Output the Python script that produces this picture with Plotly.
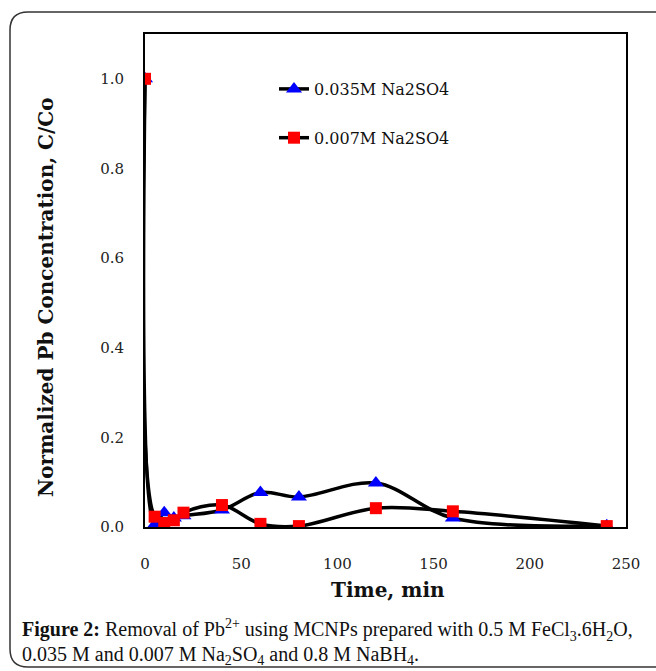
import plotly.graph_objects as go

# Sampling times (min)
time_min = [0, 5, 10, 15, 20, 40, 60, 80, 120, 160, 240]

# Normalized Pb concentration C/Co for the two sulfate levels
c_035 = [1.0, 0.005, 0.032, 0.020, 0.025, 0.038, 0.077, 0.067, 0.098, 0.020, 0.003]
c_007 = [1.0, 0.023, 0.009, 0.015, 0.032, 0.049, 0.007, 0.002, 0.042, 0.035, 0.002]

name_035 = "0.035M Na2SO4"
name_007 = "0.007M Na2SO4"

x_ticks = [0, 50, 100, 150, 200, 250]
y_ticks = [0.0, 0.2, 0.4, 0.6, 0.8, 1.0]

CHART_FONT = "DejaVu Serif"
CAPTION_FONT = "Liberation Serif"

fig = go.Figure()

fig.add_trace(go.Scatter(
    x=time_min, y=c_035, name=name_035, mode="lines+markers",
    line=dict(color="black", width=3.5, shape="spline", smoothing=1.0),
    marker=dict(symbol="triangle-up", size=14, color="#0000FF"),
    legendgroup="a",
))
fig.add_trace(go.Scatter(
    x=time_min, y=c_007, name=name_007, mode="lines+markers",
    line=dict(color="black", width=3.5, shape="spline", smoothing=1.0),
    marker=dict(symbol="square", size=12, color="#FF0000"),
    legendgroup="b",
))

axis_common = dict(
    showline=True, linecolor="black", linewidth=2, mirror=True,
    showgrid=False, zeroline=False, ticks="",
    tickfont=dict(family=CHART_FONT, size=15, color="#222"),
)

fig.update_xaxes(range=[0, 250], tickvals=x_ticks, ticklabelstandoff=22, **axis_common)
fig.update_yaxes(range=[0, 1.1], tickvals=y_ticks, tickformat=".1f",
                 ticklabelstandoff=16, **axis_common)

# Plot-area pixel box used to place surrounding decorations
L, R, T, B, W, H = 145, 626, 34, 527, 656, 671
pw, ph = R - L, B - T


def px(xp):
    return (xp - L) / pw


def py(yp):
    return (B - yp) / ph


# Rounded outer frame around the figure and caption
x0, x1, y0, y1, r = 10, 672, 12, 667, 18
path = (
    f"M {px(x0)},{py(y0 + r)} "
    f"Q {px(x0)},{py(y0)} {px(x0 + r)},{py(y0)} "
    f"L {px(x1)},{py(y0)} "
    f"L {px(x1)},{py(y1)} "
    f"L {px(x0 + r)},{py(y1)} "
    f"Q {px(x0)},{py(y1)} {px(x0)},{py(y1 - r)} Z"
)
fig.add_shape(type="path", path=path, xref="paper", yref="paper",
              line=dict(color="#333", width=1.5), layer="below")

annotations = [
    dict(text="<b>Time, min</b>", x=px(388), y=py(590), xref="paper", yref="paper",
         showarrow=False, xanchor="center", yanchor="middle",
         font=dict(family=CHART_FONT, size=20, color="#111")),
    dict(text="<b>Normalized Pb Concentration, C/Co</b>", x=px(46), y=py(297),
         xref="paper", yref="paper", showarrow=False, textangle=-90,
         xanchor="center", yanchor="middle",
         font=dict(family=CHART_FONT, size=20, color="#111")),
    dict(text="<b>Figure 2:</b> Removal of Pb<sup>2+</sup> using MCNPs prepared with 0.5 M "
              "FeCl<sub>3</sub>.6H<sub>2</sub>O,",
         x=px(20), y=py(630), xref="paper", yref="paper", showarrow=False,
         xanchor="left", yanchor="middle",
         font=dict(family=CAPTION_FONT, size=20, color="#111")),
    dict(text="0.035 M and 0.007 M Na<sub>2</sub>SO<sub>4</sub> and 0.8 M NaBH<sub>4</sub>.",
         x=px(20), y=py(655), xref="paper", yref="paper", showarrow=False,
         xanchor="left", yanchor="middle",
         font=dict(family=CAPTION_FONT, size=20, color="#111")),
]

fig.update_layout(
    width=W, height=H,
    margin=dict(l=L, r=W - R, t=T, b=H - B),
    paper_bgcolor="white", plot_bgcolor="white",
    showlegend=True,
    legend=dict(
        x=px(274), y=py(72), xanchor="left", yanchor="top",
        bgcolor="rgba(0,0,0,0)", traceorder="grouped", tracegroupgap=25,
        font=dict(family=CHART_FONT, size=16, color="#111"),
    ),
    annotations=annotations,
)

fig.write_html("out.html")
